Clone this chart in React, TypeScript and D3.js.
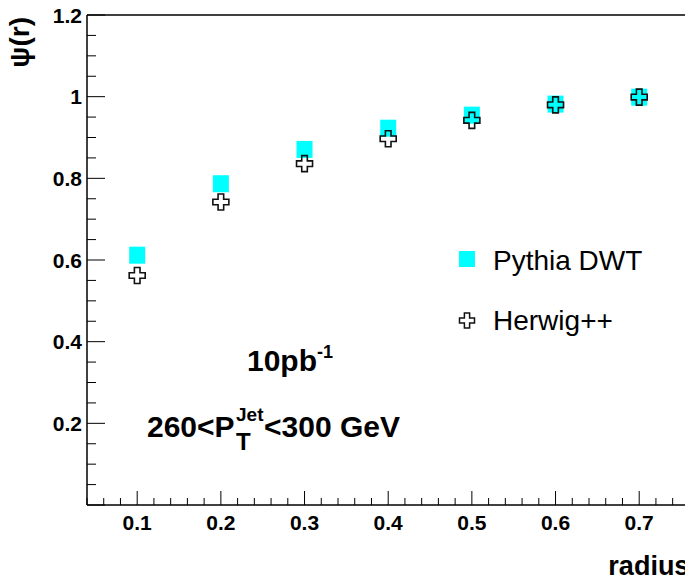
import React from "react";
import * as d3 from "d3";

// Integrated jet shape psi(r) versus cone radius
const radius = [0.1, 0.2, 0.3, 0.4, 0.5, 0.6, 0.7];
const pythiaDWT = [0.613, 0.788, 0.872, 0.924, 0.956, 0.983, 1.0];
const herwigPP = [0.562, 0.742, 0.836, 0.897, 0.942, 0.98, 0.999];
const yTickLabels = ["0.2", "0.4", "0.6", "0.8", "1", "1.2"];
const xTickLabels = ["0.1", "0.2", "0.3", "0.4", "0.5", "0.6", "0.7"];

const W = 685;
const H = 575;
const FONT = "'Liberation Sans', Arial, Helvetica, sans-serif";

const x = d3.scaleLinear().domain([0.04, 0.76]).range([87, 689.4]);
const y = d3.scaleLinear().domain([0, 1.2]).range([505, 15]);

const crossPath = (cx: number, cy: number, h: number, a: number) => {
  const p = d3.path();
  p.moveTo(cx - a, cy - h);
  p.lineTo(cx + a, cy - h);
  p.lineTo(cx + a, cy - a);
  p.lineTo(cx + h, cy - a);
  p.lineTo(cx + h, cy + a);
  p.lineTo(cx + a, cy + a);
  p.lineTo(cx + a, cy + h);
  p.lineTo(cx - a, cy + h);
  p.lineTo(cx - a, cy + a);
  p.lineTo(cx - h, cy + a);
  p.lineTo(cx - h, cy - a);
  p.lineTo(cx - a, cy - a);
  p.closePath();
  return p.toString();
};

export default function App() {
  const xMajor = x.ticks(7).filter((t) => t >= 0.1 - 1e-9 && t <= 0.7 + 1e-9);
  const xMinor = x
    .ticks(36)
    .filter((t) => !xMajor.some((m) => Math.abs(m - t) < 1e-9));
  const yMajor = y.ticks(6);
  const yMinor = y
    .ticks(24)
    .filter((t) => !yMajor.some((m) => Math.abs(m - t) < 1e-9));

  const sq = 16;

  return (
    <svg
      width={W}
      height={H}
      style={{ position: "absolute", left: 0, top: 0, background: "#fff" }}
      fontFamily={FONT}
    >
      <rect width={W} height={H} fill="#fff" />

      {/* frame */}
      <line x1={87} x2={x.range()[1]} y1={15} y2={15} stroke="#000" strokeWidth={1.5} />
      <line x1={87} x2={87} y1={15} y2={505} stroke="#000" strokeWidth={1.5} />
      <line x1={87} x2={x.range()[1]} y1={505} y2={505} stroke="#000" strokeWidth={1.5} />

      {/* x ticks */}
      {xMajor.map((t) => (
        <line key={"xM" + t} x1={x(t)} x2={x(t)} y1={505} y2={491} stroke="#000" />
      ))}
      {xMinor.map((t) => (
        <line key={"xm" + t} x1={x(t)} x2={x(t)} y1={505} y2={498} stroke="#000" />
      ))}
      {xMajor.map((t, i) => (
        <text
          key={"xl" + t}
          x={x(t)}
          y={530}
          textAnchor="middle"
          fontSize={21}
          fontWeight="bold"
        >
          {xTickLabels[i]}
        </text>
      ))}

      {/* y ticks */}
      {yMajor.map((t) => (
        <line key={"yM" + t} x1={87} x2={105} y1={y(t)} y2={y(t)} stroke="#000" />
      ))}
      {yMinor.map((t) => (
        <line key={"ym" + t} x1={87} x2={96} y1={y(t)} y2={y(t)} stroke="#000" />
      ))}
      {yMajor
        .filter((t) => t > 0)
        .map((t, i) => (
          <text
            key={"yl" + t}
            x={82}
            y={y(t) + 7.5}
            textAnchor="end"
            fontSize={21}
            fontWeight="bold"
          >
            {yTickLabels[i]}
          </text>
        ))}

      {/* axis titles */}
      <text
        x={x.range()[1]}
        y={575}
        textAnchor="end"
        fontSize={27}
        fontWeight="bold"
      >
        radius
      </text>
      <text
        transform="translate(29,17) rotate(-90)"
        textAnchor="end"
        fontSize={28}
        fontWeight="bold"
      >
        ψ(r)
      </text>

      {/* Pythia DWT: filled squares */}
      {radius.map((r, i) => (
        <rect
          key={"p" + r}
          x={x(r) - sq / 2}
          y={y(pythiaDWT[i]) - sq / 2}
          width={sq}
          height={sq + 1}
          fill="#00ffff"
        />
      ))}

      {/* Herwig++: open crosses */}
      {radius.map((r, i) => (
        <path
          key={"h" + r}
          d={crossPath(x(r), y(herwigPP[i]), 8, 2.8)}
          fill="none"
          stroke="#111"
          strokeWidth={1.6}
        />
      ))}

      {/* legend */}
      <rect x={459} y={251} width={16} height={16} fill="#00ffff" />
      <text x={493} y={270} fontSize={28}>
        Pythia DWT
      </text>
      <path d={crossPath(467, 320.5, 7.5, 2.6)} fill="none" stroke="#111" strokeWidth={1.5} />
      <text x={493} y={330} fontSize={28}>
        Herwig++
      </text>

      {/* annotations */}
      <text x={247} y={371} fontSize={30} fontWeight="bold">
        10pb
        <tspan fontSize={18} dy={-13}>
          -1
        </tspan>
      </text>
      <text x={147} y={437} fontSize={30} fontWeight="bold">
        260&lt;P
      </text>
      <text x={236} y={450} fontSize={24} fontWeight="bold">
        T
      </text>
      <text x={236} y={421} fontSize={19} fontWeight="bold">
        Jet
      </text>
      <text x={264} y={437} fontSize={30} fontWeight="bold">
        &lt;300 GeV
      </text>
    </svg>
  );
}
